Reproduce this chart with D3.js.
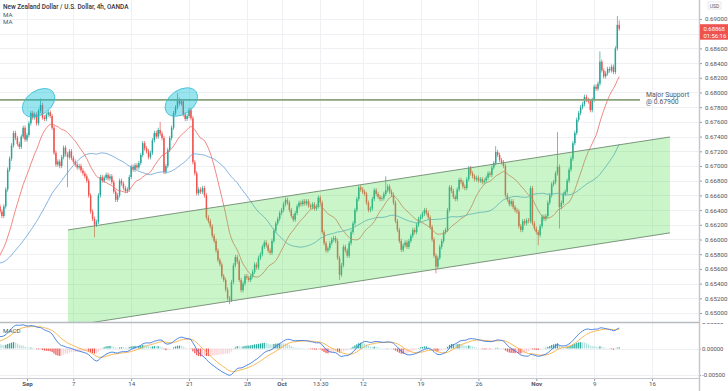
<!DOCTYPE html>
<html>
<head>
<meta charset="utf-8">
<script src="https://cdn.jsdelivr.net/npm/d3@7"></script>
<style>
  body { margin: 0; background: #fff; }
  svg { display: block; font-family: Roboto, "Noto Sans", sans-serif; }
</style>
</head>
<body>
<div id="chart"></div>
<script>
// 4h closes in pips (0.0001), before the visible window (used only for MA / MACD warm-up)
const priorCloses = [
  6585,6592,6600,6596,6605,6610,6602,6598,6604,6612,6606,
  6600,6594,6588,6580,6590,6596,6584,6578,6570,6575,6582,6568,6560,6565,6572,6580,6574,6566,6560,6556,
  6545,6538,6530,6522,6528,6520,6515,6525,6532,6535,
  6530,6538,6542,6536,6548,6552,6545,6550,6556,6553,
  6565,6580,6598,6610,6622,6615,6630,6625,6645
];

// 4h closes in pips, Aug 27 -> Nov 11
const closes = [
  6638,6632,6645,6668,6695,6710,6728,6745,6738,6730,6726,6740,
  6752,6736,6742,6758,6772,6766,6770,6758,6775,6783,6766,6764,
  6770,6773,6768,6752,6718,6702,6706,6700,6712,6725,6716,6712,
  6720,6711,6706,6702,6698,6700,6694,6690,6686,6680,6660,6638,
  6628,6620,6624,6660,6685,6680,6684,6688,6683,6686,6678,6665,
  6654,6660,6680,6676,6670,6666,6668,6685,6699,6695,6701,6698,
  6704,6715,6731,6724,6720,6712,6718,6735,6745,6740,6749,6744,
  6738,6692,6700,6722,6738,6752,6772,6780,6790,6785,6788,6770,
  6764,6768,6776,6765,6705,6690,6663,6668,6665,6670,6660,6630,
  6625,6618,6605,6598,6585,6572,6566,6550,6545,6532,6520,6518,
  6542,6565,6576,6570,6545,6531,6540,6550,6548,6545,6550,6556,
  6566,6562,6575,6580,6590,6596,6592,6585,6582,6598,6612,6622,
  6628,6636,6640,6648,6654,6650,6640,6632,6627,6636,6645,6650,
  6648,6652,6649,6652,6646,6644,6648,6642,6645,6657,6650,6610,
  6595,6585,6588,6595,6600,6602,6598,6575,6552,6565,6590,6585,
  6578,6595,6610,6622,6640,6655,6671,6668,6665,6662,6650,6640,
  6642,6655,6667,6662,6658,6655,6656,6662,6667,6672,6665,6661,
  6650,6625,6613,6598,6586,6592,6596,6590,6598,6605,6613,6610,
  6620,6628,6631,6635,6640,6636,6630,6617,6600,6578,6563,6575,
  6590,6598,6610,6613,6640,6671,6666,6658,6655,6668,6681,6678,
  6672,6670,6682,6697,6690,6686,6682,6684,6680,6682,6678,6680,
  6684,6690,6688,6698,6704,6719,6715,6708,6705,6700,6660,6654,
  6648,6652,6644,6640,6638,6618,6613,6625,6622,6626,6625,6670,
  6622,6615,6610,6606,6618,6631,6628,6632,6650,6660,6675,6678,
  6690,6699,6644,6650,6662,6665,6680,6695,6710,6731,6745,6763,
  6772,6780,6784,6794,6790,6788,6776,6790,6808,6805,6812,6842,
  6830,6822,6826,6832,6830,6835,6828,6860,6892,6886.8
];

// long wicks [bar, pips]
const highWicks = [[21, 6792], [83, 6760], [92, 6799], [200, 6686], [257, 6727], [289, 6746], [311, 6856], [320, 6904], [321, 6898]];
const lowWicks = [[35, 6671], [49, 6603], [119, 6512], [176, 6545], [226, 6554], [279, 6592], [290, 6615]];

// time axis
const timeTickBars = [14, 38, 68, 98, 128, 146, 166, 188, 218, 248, 278, 308, 338];
const timeTickLabels = ['Sep', '7', '14', '21', '28', 'Oct', '13:30', '12', '19', '26', 'Nov', '9', '16'];

const priceTicks = [0.650, 0.652, 0.654, 0.656, 0.658, 0.660, 0.662, 0.664, 0.666, 0.668, 0.670,
  0.672, 0.674, 0.676, 0.678, 0.680, 0.682, 0.684, 0.686, 0.688, 0.690];
const macdTicks = [-0.005, 0, 0.005];

// drawings: [bar, pips]
const channelTop = [[35.25, 6613], [347.3, 6739.5]];
const channelBottom = [[35.25, 6482], [347.3, 6609]];
const supportLevel = 6790;
const supportEnd = 331.8;
const highlightTops = [[20, 6786], [94, 6787]];

function draw() {
  const width = 728, height = 391;
  const plotRight = 699;
  const mainBottom = 322;
  const macdTop = 323, macdBottom = 378;
  const pip = v => v / 10000;

  // Scales
  const xScale = d3.scaleLinear().domain([14, 338]).range([27, 652]);
  const yScale = d3.scaleLinear().domain([0.65, 0.69]).range([313, 19]);
  const mScale = d3.scaleLinear().domain([-0.005, 0.005]).range([375, 322]);

  // candles
  const all = priorCloses.concat(closes);
  const offset = priorCloses.length;
  const hiMap = new Map(highWicks), loMap = new Map(lowWicks);
  const candles = closes.map((c, i) => {
    const o = i === 0 ? priorCloses[offset - 1] : closes[i - 1];
    const h = hiMap.has(i) ? hiMap.get(i) : Math.max(o, c) + 3;
    const l = loMap.has(i) ? loMap.get(i) : Math.min(o, c) - 3;
    return { i, o: pip(o), c: pip(c), h: pip(h), l: pip(l) };
  });
  const last = candles[candles.length - 1];
  const ly = yScale(last.c);

  // Indicators
  const sma = n => all.map((d, i) => i < n - 1 ? null : d3.mean(all.slice(i - n + 1, i + 1)));
  const ema = (vals, n) => {
    const k = 2 / (n + 1);
    let prev;
    return vals.map((v, i) => (prev = i === 0 ? v : v * k + prev * (1 - k)));
  };
  const ma20 = sma(20).map((v, i) => ({ i: i - offset, v: pip(v) }));
  const ma50 = sma(50).map((v, i) => ({ i: i - offset, v: pip(v) }));
  const e12 = ema(all, 12), e26 = ema(all, 26);
  const macd = all.map((d, i) => pip(e12[i] - e26[i]));
  const signal = ema(macd, 9);
  const macdData = macd.map((m, i) => ({ i: i - offset, m, s: signal[i], h: m - signal[i] }));

  const svg = d3.select('#chart')
    .append('svg')
    .attr('width', width)
    .attr('height', height);

  const defs = svg.append('defs');
  defs.append('clipPath').attr('id', 'clipMain')
    .append('rect').attr('x', 0).attr('y', 0).attr('width', plotRight).attr('height', mainBottom);
  defs.append('clipPath').attr('id', 'clipMacd')
    .append('rect').attr('x', 0).attr('y', macdTop).attr('width', plotRight).attr('height', macdBottom - macdTop);
  defs.append('clipPath').attr('id', 'clipMacdAxis')
    .append('rect').attr('x', plotRight).attr('y', macdTop).attr('width', width - plotRight).attr('height', macdBottom - macdTop + 6);

  // Grid
  const grid = svg.append('g').attr('stroke', '#eef0f3').attr('stroke-width', 1);
  grid.selectAll('.vg').data(timeTickBars).join('line')
    .attr('x1', d => Math.round(xScale(d)) + 0.5).attr('x2', d => Math.round(xScale(d)) + 0.5)
    .attr('y1', 0).attr('y2', macdBottom);
  grid.selectAll('.hg').data(priceTicks).join('line')
    .attr('x1', 0).attr('x2', plotRight)
    .attr('y1', d => Math.round(yScale(d)) + 0.5).attr('y2', d => Math.round(yScale(d)) + 0.5);
  grid.selectAll('.mg').data(macdTicks).join('line')
    .attr('x1', 0).attr('x2', plotRight)
    .attr('y1', d => Math.round(mScale(d)) + 0.5).attr('y2', d => Math.round(mScale(d)) + 0.5);

  // Main pane
  const main = svg.append('g').attr('clip-path', 'url(#clipMain)');
  const up = '#26a69a', down = '#ef5350';

  main.selectAll('.wick').data(candles).join('rect')
    .attr('x', d => xScale(d.i) - 0.35)
    .attr('width', 0.7)
    .attr('y', d => yScale(d.h))
    .attr('height', d => yScale(d.l) - yScale(d.h))
    .attr('fill', d => d.c >= d.o ? up : down);

  main.selectAll('.body').data(candles).join('rect')
    .attr('x', d => xScale(d.i) - 0.75)
    .attr('width', 1.5)
    .attr('y', d => yScale(Math.max(d.o, d.c)))
    .attr('height', d => Math.max(0.7, Math.abs(yScale(d.o) - yScale(d.c))))
    .attr('fill', d => d.c >= d.o ? up : down);

  const maLine = d3.line()
    .defined(d => d.v != null && !isNaN(d.v))
    .x(d => xScale(d.i))
    .y(d => yScale(d.v));

  main.append('path').datum(ma50)
    .attr('d', maLine).attr('fill', 'none')
    .attr('stroke', '#64a0d8').attr('stroke-width', 0.8);
  main.append('path').datum(ma20)
    .attr('d', maLine).attr('fill', 'none')
    .attr('stroke', '#ee6a63').attr('stroke-width', 0.8);

  // support line
  main.append('line')
    .attr('x1', xScale(0)).attr('x2', xScale(supportEnd))
    .attr('y1', yScale(pip(supportLevel))).attr('y2', yScale(pip(supportLevel)))
    .attr('stroke', '#8aa27c').attr('stroke-width', 1.6);

  // channel
  const chPts = [channelTop[0], channelTop[1], channelBottom[1], channelBottom[0]];
  main.append('polygon')
    .attr('points', chPts.map(d => [xScale(d[0]), yScale(pip(d[1]))].join(',')).join(' '))
    .attr('fill', 'rgba(76, 222, 76, 0.3)');
  [channelTop, channelBottom].forEach(seg => {
    main.append('line')
      .attr('x1', xScale(seg[0][0])).attr('y1', yScale(pip(seg[0][1])))
      .attr('x2', xScale(seg[1][0])).attr('y2', yScale(pip(seg[1][1])))
      .attr('stroke', '#6f8a6f').attr('stroke-width', 0.9);
  });

  // highlighted tops
  main.selectAll('.top').data(highlightTops).join('ellipse')
    .attr('transform', d => `translate(${xScale(d[0])},${yScale(pip(d[1]))}) rotate(-35)`)
    .attr('rx', 18).attr('ry', 12)
    .attr('fill', 'rgba(0, 190, 215, 0.4)')
    .attr('stroke', '#3cbfd6').attr('stroke-width', 0.8);

  svg.append('text')
    .attr('x', xScale(supportEnd) + 6).attr('y', yScale(pip(supportLevel)) - 2.6)
    .attr('font-size', '6.8px').attr('fill', '#4a5868')
    .text('Major Support');
  svg.append('text')
    .attr('x', xScale(supportEnd) + 6).attr('y', yScale(pip(supportLevel)) + 4.6)
    .attr('font-size', '6.8px').attr('fill', '#4a5868')
    .text('@ 0.67900');

  // MACD pane
  const mp = svg.append('g').attr('clip-path', 'url(#clipMacd)');
  const visMacd = macdData.filter(d => d.i >= -2);
  mp.selectAll('.hist').data(visMacd).join('rect')
    .attr('x', d => xScale(d.i) - 0.6)
    .attr('width', 1.2)
    .attr('y', d => Math.min(mScale(d.h), mScale(0)))
    .attr('height', d => Math.abs(mScale(d.h) - mScale(0)))
    .attr('fill', (d, k) => {
      const prev = k > 0 ? visMacd[k - 1].h : d.h;
      if (d.h >= 0) return d.h >= prev ? '#26a69a' : '#b2dfdb';
      return d.h <= prev ? '#ef5350' : '#ffcdd2';
    });
  mp.append('path').datum(visMacd)
    .attr('d', d3.line().x(d => xScale(d.i)).y(d => mScale(d.s)))
    .attr('fill', 'none').attr('stroke', '#f6b042').attr('stroke-width', 0.9);
  mp.append('path').datum(visMacd)
    .attr('d', d3.line().x(d => xScale(d.i)).y(d => mScale(d.m)))
    .attr('fill', 'none').attr('stroke', '#3c78e0').attr('stroke-width', 0.9);

  // Axes (labels hidden under the last-price tag are skipped, as on the platform)
  const yAxis = d3.axisRight(yScale)
    .tickValues(priceTicks.filter(d => Math.abs(yScale(d) - (ly + 3)) > 10))
    .tickSize(3).tickPadding(3)
    .tickFormat(d3.format('.5f'));
  const yG = svg.append('g')
    .attr('transform', `translate(${plotRight},0)`)
    .call(yAxis);

  const mAxis = d3.axisRight(mScale)
    .tickValues(macdTicks)
    .tickSize(2).tickPadding(1)
    .tickFormat(d => d3.format('.5f')(d).replace('−', '-'));
  const mG = svg.append('g')
    .attr('clip-path', 'url(#clipMacdAxis)')
    .append('g')
    .attr('transform', `translate(${plotRight},0)`)
    .call(mAxis);

  const xAxis = d3.axisBottom(xScale)
    .tickValues(timeTickBars)
    .tickSize(3).tickPadding(1)
    .tickFormat((d, i) => timeTickLabels[i]);
  const xG = svg.append('g')
    .attr('transform', `translate(0,${macdBottom})`)
    .call(xAxis);
  xG.selectAll('text')
    .attr('font-weight', (d, i) => ['Sep', 'Oct', 'Nov'].includes(timeTickLabels[i]) ? 700 : 400);

  [yG, mG, xG].forEach(g => {
    g.select('.domain').remove();
    g.selectAll('line').attr('stroke', '#9598a1');
    g.selectAll('text').attr('fill', '#50535e').attr('font-size', '6.2px').attr('font-family', 'Roboto, sans-serif');
  });
  mG.selectAll('text').attr('font-size', '5.9px');

  // frame lines
  svg.append('line').attr('x1', plotRight + 0.5).attr('x2', plotRight + 0.5).attr('y1', 0).attr('y2', height)
    .attr('stroke', '#c5c8ce').attr('stroke-width', 1.5);
  svg.append('line').attr('x1', 0).attr('x2', plotRight).attr('y1', mainBottom + 0.5).attr('y2', mainBottom + 0.5)
    .attr('stroke', '#b8bbc1').attr('stroke-width', 1.5);
  svg.append('line').attr('x1', 0).attr('x2', plotRight).attr('y1', macdBottom + 0.5).attr('y2', macdBottom + 0.5)
    .attr('stroke', '#c5c8ce').attr('stroke-width', 1);

  // currency tag
  svg.append('rect').attr('x', 708).attr('y', 2).attr('width', 13).attr('height', 7)
    .attr('fill', '#fff').attr('stroke', '#d1d4dc').attr('stroke-width', 0.5);
  svg.append('text').attr('x', 714.5).attr('y', 7.6).attr('text-anchor', 'middle')
    .attr('font-size', '5px').attr('fill', '#50535e').text('USD');

  // last price tag
  svg.append('rect').attr('x', plotRight + 1).attr('y', ly - 4.5).attr('width', width - plotRight - 1).attr('height', 15.5)
    .attr('fill', '#ef5350');
  svg.append('text').attr('x', 703.5).attr('y', ly + 1.8)
    .attr('font-size', '5.9px').attr('fill', '#fff').text(d3.format('.5f')(last.c));
  svg.append('text').attr('x', 703.5).attr('y', ly + 9)
    .attr('font-size', '5.9px').attr('fill', '#fff').text('01:56:16');

  // legend
  svg.append('text').attr('x', 3).attr('y', 8.5)
    .attr('font-size', '6.4px').attr('font-weight', 500).attr('fill', '#2f3241')
    .text('New Zealand Dollar / U.S. Dollar, 4h, OANDA');
  svg.append('text').attr('x', 3).attr('y', 16.5)
    .attr('font-size', '6.2px').attr('fill', '#50535e').text('MA');
  svg.append('text').attr('x', 3).attr('y', 23.5)
    .attr('font-size', '6.2px').attr('fill', '#50535e').text('MA');
  svg.append('text').attr('x', 3).attr('y', 332.5)
    .attr('font-size', '6.2px').attr('fill', '#50535e').text('MACD');
}

draw();
</script>
</body>
</html>
